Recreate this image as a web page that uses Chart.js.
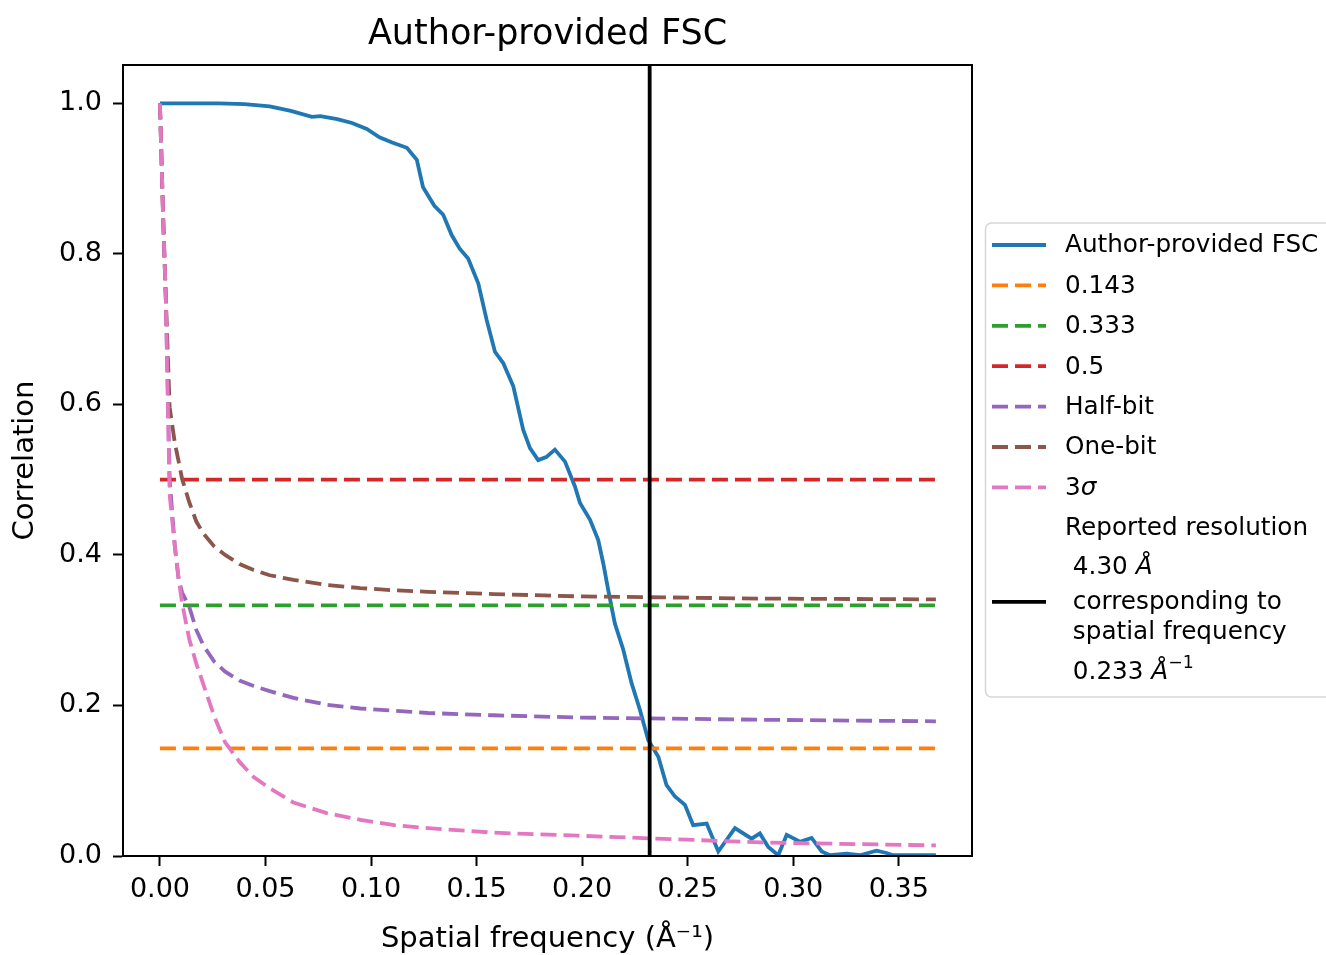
<!DOCTYPE html>
<html lang="en">
<head>
<meta charset="UTF-8">
<title>Author-provided FSC</title>
<script src="https://cdn.jsdelivr.net/npm/chart.js"></script>
<style>
  body { margin: 0; background: #fff; }
  #wrap { width: 1326px; height: 955px; }
</style>
</head>
<body>
<div id="wrap"><canvas id="fscChart" width="1326" height="955"></canvas></div>
<script>
// FSC curve
const fscFreq = [0.000, 0.015, 0.028, 0.040, 0.052, 0.062, 0.072, 0.076, 0.084, 0.091, 0.098, 0.104, 0.110, 0.117,
  0.1217, 0.1246, 0.1263, 0.1300, 0.1342, 0.1382, 0.1420, 0.1460, 0.1508, 0.1548, 0.1587, 0.1626, 0.1674, 0.1721,
  0.1753, 0.1792, 0.1830, 0.1871, 0.1919, 0.1966, 0.1990, 0.2037, 0.2076, 0.2100, 0.2124, 0.2155, 0.2195, 0.2234,
  0.2274, 0.2313, 0.2361, 0.2400, 0.2440, 0.2487, 0.2526, 0.2590, 0.2645, 0.2724, 0.2803, 0.2842, 0.2882, 0.2929,
  0.2969, 0.3032, 0.3087, 0.3135, 0.3174, 0.3253, 0.3316, 0.3395, 0.3442, 0.3474, 0.3676];
const fscValues = [1.000, 1.000, 1.000, 0.999, 0.996, 0.990, 0.982, 0.983, 0.979, 0.974, 0.966, 0.955, 0.948, 0.941,
  0.925, 0.889, 0.881, 0.864, 0.852, 0.825, 0.807, 0.794, 0.761, 0.712, 0.670, 0.655, 0.624, 0.566,
  0.542, 0.526, 0.530, 0.540, 0.524, 0.491, 0.469, 0.447, 0.420, 0.389, 0.353, 0.309, 0.274, 0.230,
  0.194, 0.154, 0.132, 0.094, 0.079, 0.068, 0.041, 0.043, 0.006, 0.037, 0.023, 0.030, 0.012, 0.001,
  0.028, 0.019, 0.024, 0.006, 0.001, 0.003, 0.001, 0.007, 0.004, 0.001, 0.001];

// information-based thresholds, read at the same spots
const thrFreq = [0, 0.0015, 0.0028, 0.0046, 0.0071, 0.0088, 0.0105, 0.0139, 0.0173, 0.0207, 0.0258, 0.0309,
  0.0377, 0.0444, 0.0520, 0.0633, 0.0790, 0.0950, 0.1110, 0.1270, 0.1580, 0.1980, 0.2850, 0.3676];
const halfBit = [1.0, 0.85, 0.74, 0.50, 0.41, 0.369, 0.350, 0.331, 0.300, 0.279, 0.258, 0.245,
  0.233, 0.226, 0.219, 0.210, 0.201, 0.196, 0.193, 0.190, 0.187, 0.184, 0.181, 0.179];
const oneBit = [1.0, 0.85, 0.74, 0.596, 0.548, 0.525, 0.501, 0.470, 0.444, 0.428, 0.411, 0.400,
  0.388, 0.380, 0.373, 0.367, 0.360, 0.356, 0.353, 0.351, 0.348, 0.345, 0.342, 0.341];
const threeSigma = [1.0, 0.85, 0.74, 0.48, 0.41, 0.37, 0.336, 0.288, 0.255, 0.227, 0.185, 0.151,
  0.125, 0.105, 0.090, 0.071, 0.057, 0.048, 0.041, 0.037, 0.031, 0.027, 0.018, 0.014];

// fixed thresholds and the reported resolution
const fixedLevels = [0.143, 0.333, 0.5];
const freqEnd = 0.3676;
const reportedFreq = 0.232;

const xTicks = [0, 0.05, 0.10, 0.15, 0.20, 0.25, 0.30, 0.35];
const yTicks = [0, 0.2, 0.4, 0.6, 0.8, 1.0];

const FONT = '"DejaVu Sans"';
const DASH = [16, 7];

function pts(xs, ys) {
  return xs.map((x, i) => ({x: x, y: ys[i]}));
}
function flat(level) {
  return [{x: 0, y: level}, {x: freqEnd, y: level}];
}

const datasets = [
  {label: 'Author-provided FSC', data: pts(fscFreq, fscValues), borderColor: '#1f77b4', borderDash: [], order: 8,
   legendLines: [[['Author-provided FSC', 'n']]]},
  {label: '0.143', data: flat(fixedLevels[0]), borderColor: '#ff7f0e', borderDash: DASH, order: 7,
   legendLines: [[['0.143', 'n']]]},
  {label: '0.333', data: flat(fixedLevels[1]), borderColor: '#2ca02c', borderDash: DASH, order: 6,
   legendLines: [[['0.333', 'n']]]},
  {label: '0.5', data: flat(fixedLevels[2]), borderColor: '#d62728', borderDash: DASH, order: 5,
   legendLines: [[['0.5', 'n']]]},
  {label: 'Half-bit', data: pts(thrFreq, halfBit), borderColor: '#9467bd', borderDash: DASH, order: 4,
   legendLines: [[['Half-bit', 'n']]]},
  {label: 'One-bit', data: pts(thrFreq, oneBit), borderColor: '#8c564b', borderDash: DASH, order: 3,
   legendLines: [[['One-bit', 'n']]]},
  {label: '3σ', data: pts(thrFreq, threeSigma), borderColor: '#e377c2', borderDash: DASH, order: 2,
   legendLines: [[['3', 'n'], ['σ', 'i']]]},
  {label: 'Reported resolution', data: [{x: reportedFreq, y: 0}, {x: reportedFreq, y: 1.06}],
   borderColor: '#000000', borderDash: [], order: 1,
   legendLines: [
     [['Reported resolution', 'n']],
     [[' 4.30 ', 'n'], ['Å', 'i']],
     [[' corresponding to', 'n']],
     [[' spatial frequency', 'n']],
     [[' 0.233 ', 'n'], ['Å', 'i'], ['−1', 's']]
   ]}
];
datasets.forEach(d => { d.borderWidth = 3.8; d.fill = false; d.pointRadius = 0; });

function drawRich(ctx, segs, x, y, size) {
  for (const [t, st] of segs) {
    const fs = st === 's' ? size * 0.7 : size;
    ctx.font = (st === 'i' ? 'italic ' : '') + fs + 'px ' + FONT;
    ctx.fillText(t, x, st === 's' ? y - size * 0.38 : y);
    x += ctx.measureText(t).width;
  }
}

// title, full frame and the outside legend (matplotlib look)
const framePlugin = {
  id: 'framePlugin',
  afterDraw(chart) {
    const ctx = chart.ctx, a = chart.chartArea;
    ctx.save();
    ctx.strokeStyle = '#000';
    ctx.lineWidth = 2;
    ctx.strokeRect(a.left, a.top, a.right - a.left, a.bottom - a.top);

    ctx.fillStyle = '#000';
    ctx.textAlign = 'center';
    ctx.textBaseline = 'middle';
    ctx.font = '35px ' + FONT;
    ctx.fillText('Author-provided FSC', (a.left + a.right) / 2, 35);

    // legend frame
    const bx = 985.5, by = 223, bw = 380, bh = 474, r = 6;
    ctx.beginPath();
    ctx.moveTo(bx + r, by);
    ctx.lineTo(bx + bw, by);
    ctx.lineTo(bx + bw, by + bh);
    ctx.lineTo(bx + r, by + bh);
    ctx.arcTo(bx, by + bh, bx, by + bh - r, r);
    ctx.lineTo(bx, by + r);
    ctx.arcTo(bx, by, bx + r, by, r);
    ctx.closePath();
    ctx.fillStyle = 'rgba(255,255,255,0.8)';
    ctx.fill();
    ctx.strokeStyle = '#d6d6d6';
    ctx.lineWidth = 1.5;
    ctx.stroke();

    ctx.textAlign = 'left';
    ctx.fillStyle = '#000';
    const size = 24.7;
    const lineOffsets = [0, 39, 74, 104, 144];
    let rowY = 246;
    chart.data.datasets.forEach(ds => {
      const lines = ds.legendLines;
      const top = rowY;
      lines.forEach((segs, k) => drawRich(ctx, segs, 1065, top + lineOffsets[k], size));
      const sampleY = lines.length > 1 ? top + 74 : top;
      ctx.save();
      ctx.strokeStyle = ds.borderColor;
      ctx.lineWidth = ds.borderWidth;
      ctx.lineCap = 'butt';
      ctx.setLineDash(ds.borderDash);
      ctx.beginPath();
      ctx.moveTo(992, sampleY - 1);
      ctx.lineTo(1046, sampleY - 1);
      ctx.stroke();
      ctx.restore();
      ctx.textAlign = 'left';
      ctx.textBaseline = 'middle';
      rowY += 40.4;
    });
    ctx.restore();
  }
};

new Chart(document.getElementById('fscChart').getContext('2d'), {
  type: 'line',
  data: {datasets: datasets},
  plugins: [framePlugin],
  options: {
    responsive: false,
    animation: false,
    parsing: true,
    layout: {padding: {top: 65, right: 354, bottom: 0, left: 0}},
    elements: {line: {tension: 0}, point: {radius: 0}},
    plugins: {
      legend: {display: false},
      tooltip: {enabled: false},
      title: {display: false}
    },
    scales: {
      x: {
        type: 'linear',
        min: -0.0175,
        max: 0.3847,
        afterFit: s => { s.height = 99; },
        afterBuildTicks: s => { s.ticks = xTicks.map(v => ({value: v})); },
        grid: {drawOnChartArea: false, drawTicks: true, tickLength: 10, tickColor: '#000', tickWidth: 2},
        border: {display: true, color: '#000', width: 2},
        ticks: {
          color: '#000', font: {family: FONT, size: 27}, padding: 8,
          maxRotation: 0, autoSkip: false, callback: v => v.toFixed(2)
        },
        title: {
          display: true, text: 'Spatial frequency (Å⁻¹)', color: '#000',
          font: {family: FONT, size: 29}, padding: {top: 0, bottom: -2}
        }
      },
      y: {
        type: 'linear',
        min: 0,
        max: 1.051,
        afterFit: s => { s.width = 123; },
        afterBuildTicks: s => { s.ticks = yTicks.map(v => ({value: v})); },
        grid: {drawOnChartArea: false, drawTicks: true, tickLength: 10, tickColor: '#000', tickWidth: 2},
        border: {display: true, color: '#000', width: 2},
        ticks: {
          color: '#000', font: {family: FONT, size: 27}, padding: 11,
          callback: v => v.toFixed(1)
        },
        title: {
          display: true, text: 'Correlation', color: '#000',
          font: {family: FONT, size: 29}, padding: {top: 8, bottom: 0}
        }
      }
    }
  }
});
</script>
</body>
</html>
